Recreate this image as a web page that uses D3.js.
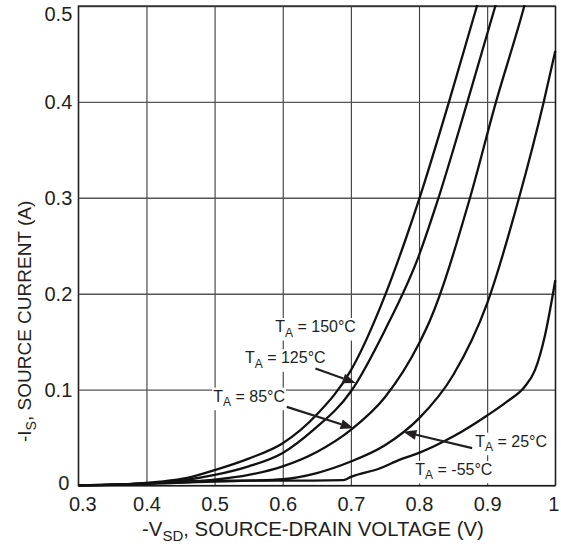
<!DOCTYPE html>
<html>
<head>
<meta charset="utf-8">
<script src="https://cdn.jsdelivr.net/npm/d3@7"></script>
<style>
  body { margin: 0; background: #fff; }
  svg { display: block; }
  text { font-family: "Liberation Sans", Arial, Helvetica, sans-serif; fill: #231f20; }
</style>
</head>
<body>
<svg id="chart" width="561" height="546"></svg>
<script>
// Axis ticks
const xTicks = [0.3, 0.4, 0.5, 0.6, 0.7, 0.8, 0.9, 1.0];
const xTickLabels = ["0.3", "0.4", "0.5", "0.6", "0.7", "0.8", "0.9", "1"];
const yTicks = [0, 0.1, 0.2, 0.3, 0.4, 0.5];
const yTickLabels = ["0", "0.1", "0.2", "0.3", "0.4", "0.5"];

// Source current vs. source-drain voltage, [V_SD (V), I_S (A)]
const curve150 = [[0.30,0.000],[0.36,0.001],[0.42,0.004],[0.46,0.008],[0.50,0.016],[0.55,0.028],
  [0.60,0.044],[0.65,0.074],[0.70,0.120],[0.75,0.198],[0.78,0.256],[0.80,0.298],[0.844,0.400],[0.885,0.500],[0.89,0.512]];
const curve125 = [[0.30,0.000],[0.36,0.001],[0.42,0.003],[0.46,0.006],[0.50,0.011],[0.55,0.020],
  [0.60,0.034],[0.645,0.058],[0.70,0.098],[0.75,0.162],[0.80,0.240],[0.825,0.292],[0.871,0.400],[0.912,0.500],[0.917,0.512]];
const curve85 = [[0.30,0.000],[0.40,0.002],[0.45,0.003],[0.50,0.006],[0.55,0.011],[0.60,0.020],
  [0.65,0.035],[0.70,0.058],[0.75,0.092],[0.80,0.148],[0.816,0.172],[0.874,0.298],[0.913,0.400],[0.9545,0.500],[0.959,0.512]];
const curve25 = [[0.30,0.000],[0.40,0.002],[0.50,0.004],[0.55,0.005],[0.60,0.0065],[0.65,0.013],
  [0.70,0.025],[0.75,0.042],[0.80,0.070],[0.85,0.115],[0.90,0.190],[0.946,0.298],[0.983,0.400],[1.0,0.453]];
const curveM55 = [[0.30,0.000],[0.40,0.002],[0.45,0.004],[0.50,0.005],[0.60,0.005],[0.689,0.0057],
  [0.70,0.009],[0.743,0.018],[0.772,0.027],[0.80,0.034],[0.85,0.051],[0.90,0.073],[0.93,0.088],
  [0.955,0.103],[0.97,0.120],[0.985,0.157],[1.0,0.214]];

const seriesList = [curve150, curve125, curve85, curve25, curveM55];

// Curve labels: text, anchor point [V, I], and optional arrow [tail, tip]
const curveLabels = [
  { t: "150°C", at: [0.589, 0.160] },
  { t: "125°C", at: [0.5445, 0.1274], arrow: [[0.648, 0.122], [0.707, 0.107]] },
  { t: "85°C",  at: [0.498, 0.0874],  arrow: [[0.606, 0.082], [0.704, 0.0597]] },
  { t: "25°C",  at: [0.8825, 0.0405], arrow: [[0.878, 0.039], [0.777, 0.056]] },
  { t: "-55°C", at: [0.7945, 0.011] }
];

const svg = d3.select("#chart");
const plotLeft = 78.3, plotRight = 555.3, plotTop = 6, plotBottom = 485.5;

const x = d3.scaleLinear().domain([0.3, 1.0]).range([plotLeft, plotRight]);
const y = d3.scaleLinear().domain([0, 0.5]).range([plotBottom, plotTop]);

// Grid via axes
const gx = svg.append("g")
  .attr("transform", `translate(0,${plotBottom})`)
  .call(d3.axisBottom(x).tickValues(xTicks)
    .tickFormat((d, i) => xTickLabels[i])
    .tickSize(-(plotBottom - plotTop)).tickPadding(11));
gx.select(".domain").remove();
gx.selectAll(".tick line").attr("stroke", "#3a3a3a").attr("stroke-width", 1.1);
gx.selectAll(".tick text").attr("font-size", 20).attr("fill", "#231f20")
  .style("font-family", '"Liberation Sans", Arial, sans-serif');
gx.selectAll(".tick text").filter((d, i) => i === 0).attr("x", 4);
gx.selectAll(".tick text").filter((d, i) => i === xTicks.length - 1).attr("x", -2);

const gy = svg.append("g")
  .attr("transform", `translate(${plotLeft},0)`)
  .call(d3.axisLeft(y).tickValues(yTicks)
    .tickFormat((d, i) => yTickLabels[i])
    .tickSize(-(plotRight - plotLeft)).tickPadding(6));
gy.select(".domain").remove();
gy.selectAll(".tick line").attr("stroke", "#555").attr("stroke-width", 1.4);
gy.selectAll(".tick text").attr("font-size", 20).attr("fill", "#231f20")
  .style("font-family", '"Liberation Sans", Arial, sans-serif');
gy.selectAll(".tick text").filter((d, i) => i === yTicks.length - 1).attr("y", 8.5);
gy.selectAll(".tick text").filter((d, i) => i === 0).attr("y", -2).attr("x", -9);

// Plot frame
svg.append("rect")
  .attr("x", plotLeft).attr("y", plotTop)
  .attr("width", plotRight - plotLeft).attr("height", plotBottom - plotTop)
  .attr("fill", "none").attr("stroke", "#1a1a1a").attr("stroke-width", 1.2);

// Curves
svg.append("clipPath").attr("id", "plotClip")
  .append("rect").attr("x", plotLeft).attr("y", plotTop - 1)
  .attr("width", plotRight - plotLeft + 2).attr("height", plotBottom - plotTop + 2);

const line = d3.line()
  .x(d => x(d[0])).y(d => y(d[1]))
  .curve(d3.curveMonotoneX);

svg.append("g").attr("clip-path", "url(#plotClip)")
  .selectAll("path").data(seriesList).join("path")
  .attr("d", line)
  .attr("fill", "none")
  .attr("stroke", "#111")
  .attr("stroke-width", 2.3)
  .attr("stroke-linejoin", "round");

// Labels with white backing and arrows
const labelLayer = svg.append("g");
curveLabels.forEach(lb => {
  const g = labelLayer.append("g");
  const txt = g.append("text")
    .attr("x", x(lb.at[0])).attr("y", y(lb.at[1]))
    .attr("font-size", 16);
  txt.append("tspan").text("T");
  txt.append("tspan").attr("dy", 4.5).attr("font-size", 12).text("A");
  txt.append("tspan").attr("dy", -4.5).text(" = " + lb.t);
  const bb = txt.node().getBBox();
  g.insert("rect", "text")
    .attr("x", bb.x - 1).attr("y", bb.y)
    .attr("width", bb.width + 2).attr("height", bb.height + 1)
    .attr("fill", "#fff");
  if (lb.arrow) {
    const [p0, p1] = lb.arrow;
    const x0 = x(p0[0]), y0 = y(p0[1]), x1 = x(p1[0]), y1 = y(p1[1]);
    const ang = Math.atan2(y1 - y0, x1 - x0);
    const hl = 13, hw = 5;
    const bx = x1 - hl * Math.cos(ang), by = y1 - hl * Math.sin(ang);
    g.append("line")
      .attr("x1", x0).attr("y1", y0).attr("x2", bx).attr("y2", by)
      .attr("stroke", "#231f20").attr("stroke-width", 2.2);
    g.append("path")
      .attr("d", `M${x1},${y1}L${bx - hw * Math.sin(ang)},${by + hw * Math.cos(ang)}L${bx + hw * Math.sin(ang)},${by - hw * Math.cos(ang)}Z`)
      .attr("fill", "#231f20");
  }
});

// Axis titles
const xt = svg.append("text")
  .attr("x", 142).attr("y", 536)
  .attr("font-size", 20.4);
xt.append("tspan").text("-V");
xt.append("tspan").attr("dy", 5).attr("font-size", 15).text("SD");
xt.append("tspan").attr("dy", -5).text(", SOURCE-DRAIN VOLTAGE (V)");

const yt = svg.append("text")
  .attr("transform", "translate(31,442) rotate(-90)")
  .attr("font-size", 19);
yt.append("tspan").text("-I");
yt.append("tspan").attr("dy", 5).attr("font-size", 14).text("S");
yt.append("tspan").attr("dy", -5).text(", SOURCE CURRENT (A)");
</script>
</body>
</html>
